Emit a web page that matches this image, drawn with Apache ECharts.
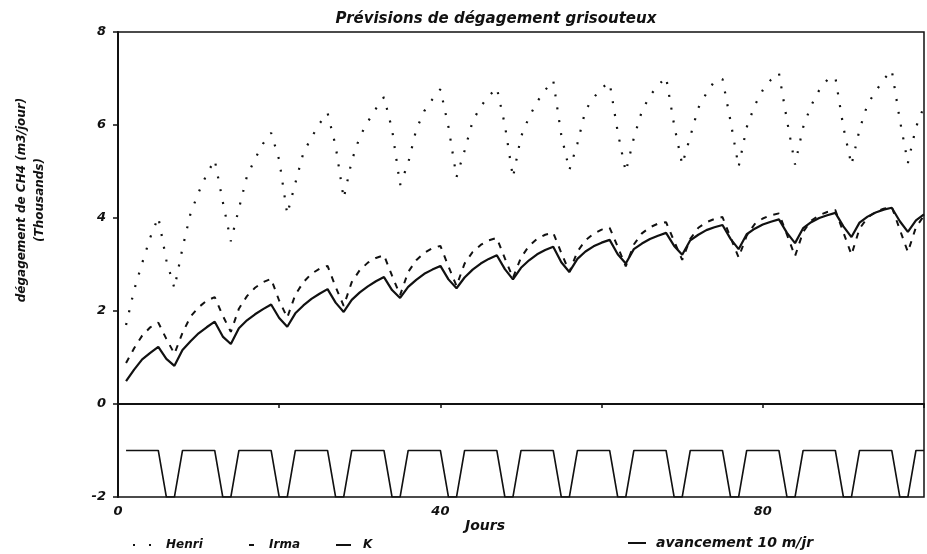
<!DOCTYPE html>
<html>
<head>
<meta charset="utf-8">
<script src="https://cdn.jsdelivr.net/npm/echarts@6/dist/echarts.min.js"></script>
<style>
html,body{margin:0;padding:0;background:#fff;}
#chart{width:927px;height:554px;}
</style>
</head>
<body>
<div id="chart"></div>
<script>
const titleText = 'Prévisions de dégagement grisouteux';
const yNameLine1 = 'dégagement de CH4 (m3/jour)';
const yNameLine2 = '(Thousands)';
const xName = 'Jours';
const seriesNames = ['Henri', 'Irma', 'K', 'avancement 10 m/jr'];
const xTickLabels = [0, 40, 80];

const days = [1,2,3,4,5,6,7,8,9,10,11,12,13,14,15,16,17,18,19,20,
  21,22,23,24,25,26,27,28,29,30,31,32,33,34,35,36,37,38,39,40,
  41,42,43,44,45,46,47,48,49,50,51,52,53,54,55,56,57,58,59,60,
  61,62,63,64,65,66,67,68,69,70,71,72,73,74,75,76,77,78,79,80,
  81,82,83,84,85,86,87,88,89,90,91,92,93,94,95,96,97,98,99,100];

const henri = [
  1.70, 2.45, 3.03, 3.58, 4.02, 3.09, 2.49,
  3.35, 4.10, 4.55, 4.94, 5.25, 4.35, 3.50,
  4.20, 4.90, 5.27, 5.60, 5.83, 5.25, 4.08,
  4.75, 5.40, 5.73, 6.03, 6.26, 5.55, 4.42,
  5.23, 5.75, 6.07, 6.35, 6.60, 5.91, 4.71,
  5.18, 5.90, 6.30, 6.55, 6.77, 5.96, 4.88,
  5.45, 6.08, 6.40, 6.62, 6.80, 6.00, 4.87,
  5.75, 6.17, 6.50, 6.75, 6.96, 5.78, 5.03,
  5.60, 6.32, 6.58, 6.80, 6.91, 5.85, 4.99,
  5.72, 6.30, 6.63, 6.85, 7.03, 6.00, 5.15,
  5.75, 6.37, 6.68, 6.94, 6.99, 6.08, 5.10,
  5.95, 6.42, 6.75, 6.97, 7.12, 6.10, 5.15,
  5.95, 6.42, 6.75, 6.97, 7.03, 5.95, 5.14,
  5.90, 6.45, 6.72, 6.98, 7.18, 6.11, 5.18,
  5.95, 6.40];

const irma = [
  0.88, 1.20, 1.47, 1.65, 1.75, 1.40, 1.08,
  1.53, 1.88, 2.08, 2.22, 2.30, 1.90, 1.55,
  2.05, 2.32, 2.50, 2.62, 2.69, 2.22, 1.86,
  2.35, 2.62, 2.80, 2.91, 2.97, 2.52, 2.11,
  2.62, 2.88, 3.04, 3.14, 3.20, 2.76, 2.34,
  2.84, 3.09, 3.25, 3.35, 3.40, 2.96, 2.54,
  3.02, 3.27, 3.42, 3.52, 3.57, 3.13, 2.71,
  3.15, 3.40, 3.55, 3.64, 3.68, 3.25, 2.84,
  3.28, 3.52, 3.66, 3.75, 3.79, 3.38, 2.96,
  3.43, 3.67, 3.80, 3.88, 3.91, 3.50, 3.10,
  3.55, 3.79, 3.91, 3.98, 4.02, 3.58, 3.15,
  3.62, 3.87, 3.99, 4.06, 4.10, 3.64, 3.18,
  3.70, 3.94, 4.06, 4.13, 4.17, 3.69, 3.21,
  3.77, 4.01, 4.13, 4.20, 4.24, 3.75, 3.27,
  3.80, 4.05];

const kVals = [
  0.49, 0.74, 0.96, 1.10, 1.23, 0.97, 0.82,
  1.16, 1.35, 1.52, 1.65, 1.77, 1.45, 1.29,
  1.63, 1.80, 1.93, 2.04, 2.14, 1.85, 1.66,
  1.95, 2.12, 2.26, 2.37, 2.47, 2.18, 1.98,
  2.24, 2.40, 2.53, 2.64, 2.73, 2.45, 2.28,
  2.52, 2.67, 2.80, 2.89, 2.97, 2.68, 2.49,
  2.72, 2.89, 3.02, 3.12, 3.20, 2.90, 2.68,
  2.93, 3.09, 3.22, 3.31, 3.38, 3.05, 2.84,
  3.12, 3.28, 3.39, 3.47, 3.53, 3.22, 3.02,
  3.33, 3.45, 3.55, 3.62, 3.68, 3.40, 3.21,
  3.52, 3.64, 3.74, 3.80, 3.85, 3.55, 3.33,
  3.65, 3.77, 3.86, 3.92, 3.97, 3.68, 3.46,
  3.78, 3.91, 4.00, 4.06, 4.11, 3.82, 3.59,
  3.90, 4.03, 4.12, 4.18, 4.22, 3.93, 3.70,
  3.95, 4.08];

const avancement = [
  -1, -1, -1, -1, -1, -2, -2,
  -1, -1, -1, -1, -1, -2, -2,
  -1, -1, -1, -1, -1, -2, -2,
  -1, -1, -1, -1, -1, -2, -2,
  -1, -1, -1, -1, -1, -2, -2,
  -1, -1, -1, -1, -1, -2, -2,
  -1, -1, -1, -1, -1, -2, -2,
  -1, -1, -1, -1, -1, -2, -2,
  -1, -1, -1, -1, -1, -2, -2,
  -1, -1, -1, -1, -1, -2, -2,
  -1, -1, -1, -1, -1, -2, -2,
  -1, -1, -1, -1, -1, -2, -2,
  -1, -1, -1, -1, -1, -2, -2,
  -1, -1, -1, -1, -1, -2, -2,
  -1, -1];

const pair = arr => days.map((d, i) => [d, arr[i]]);
const FONT = 'DejaVu Sans';
const INK = '#111';

const chart = echarts.init(document.getElementById('chart'), null, {renderer: 'canvas'});

const legendText = size => ({fontFamily: FONT, fontStyle: 'italic', fontWeight: 'bold', fontSize: size, color: INK});
const legendBase = {
  orient: 'horizontal',
  top: 534,
  itemHeight: 10,
  itemGap: 6,
  itemStyle: {opacity: 0, color: 'rgba(0,0,0,0)', borderWidth: 0},
  selectedMode: false
};

chart.setOption({
  animation: false,
  backgroundColor: '#fff',
  title: {
    text: titleText,
    left: 491, top: 7, textAlign: 'center',
    textStyle: {fontFamily: FONT, fontStyle: 'italic', fontWeight: 'bold', fontSize: 15, color: INK}
  },
  grid: {left: 118, right: 1, top: 32, bottom: 57, show: true, borderColor: INK, borderWidth: 1.5, backgroundColor: 'transparent'},
  xAxis: {
    type: 'value', min: 0, max: 100, interval: 20,
    axisLine: {show: true, lineStyle: {color: INK, width: 2}},
    axisTick: {show: true, inside: false, length: 4, lineStyle: {color: INK, width: 1.5}},
    splitLine: {show: false},
    axisLabel: {
      margin: 8, color: INK, fontFamily: FONT, fontStyle: 'italic', fontWeight: 'bold', fontSize: 13,
      formatter: v => xTickLabels.indexOf(v) >= 0 ? String(v) : ''
    }
  },
  yAxis: {
    type: 'value', min: -2, max: 8, interval: 2,
    axisLine: {show: true, lineStyle: {color: INK, width: 2}},
    axisTick: {show: true, inside: false, length: 5, lineStyle: {color: INK, width: 1.5}},
    splitLine: {show: false},
    axisLabel: {margin: 12, color: INK, fontFamily: FONT, fontStyle: 'italic', fontWeight: 'bold', fontSize: 13}
  },
  legend: [
    Object.assign({}, legendBase, {left: 127, data: [seriesNames[0]], itemWidth: 28,
      lineStyle: {type: [2, 14]}, textStyle: legendText(12)}),
    Object.assign({}, legendBase, {left: 243, data: [seriesNames[1]], itemWidth: 15,
      lineStyle: {type: [5, 20]}, textStyle: legendText(12)}),
    Object.assign({}, legendBase, {left: 330, data: [seriesNames[2]], itemWidth: 22,
      lineStyle: {type: [15, 20]}, textStyle: legendText(12)}),
    Object.assign({}, legendBase, {left: 622, top: 531, data: [seriesNames[3]], itemWidth: 23,
      lineStyle: {type: [18, 20]}, textStyle: legendText(14)})
  ],
  graphic: [
    {type: 'text', x: 22, y: 200, rotation: Math.PI / 2,
      style: {text: yNameLine1, fill: INK, font: 'italic bold 12px "DejaVu Sans"', textAlign: 'center', textVerticalAlign: 'middle'}},
    {type: 'text', x: 40, y: 200, rotation: Math.PI / 2,
      style: {text: yNameLine2, fill: INK, font: 'italic bold 12px "DejaVu Sans"', textAlign: 'center', textVerticalAlign: 'middle'}},
    {type: 'text', x: 485, y: 526,
      style: {text: xName, fill: INK, font: 'italic bold 14px "DejaVu Sans"', textAlign: 'center', textVerticalAlign: 'middle'}}
  ],
  series: [
    {
      name: seriesNames[0], type: 'line', data: pair(henri), showSymbol: false, symbol: 'none',
      lineStyle: {color: INK, width: 2.2, type: [2, 11], cap: 'butt'}, itemStyle: {color: INK}, z: 2
    },
    {
      name: seriesNames[1], type: 'line', data: pair(irma), showSymbol: false, symbol: 'none',
      lineStyle: {color: INK, width: 2, type: [6, 7]}, itemStyle: {color: INK}, z: 3
    },
    {
      name: seriesNames[2], type: 'line', data: pair(kVals), showSymbol: false, symbol: 'none',
      lineStyle: {color: INK, width: 2.2}, itemStyle: {color: INK}, z: 4,
      markLine: {
        silent: true, symbol: 'none', label: {show: false},
        lineStyle: {color: INK, width: 1.8, type: 'solid'},
        data: [{yAxis: 0}]
      }
    },
    {
      name: seriesNames[3], type: 'line', data: pair(avancement), showSymbol: false, symbol: 'none',
      lineStyle: {color: INK, width: 1.6}, itemStyle: {color: INK}, z: 4
    }
  ]
});
</script>
</body>
</html>
